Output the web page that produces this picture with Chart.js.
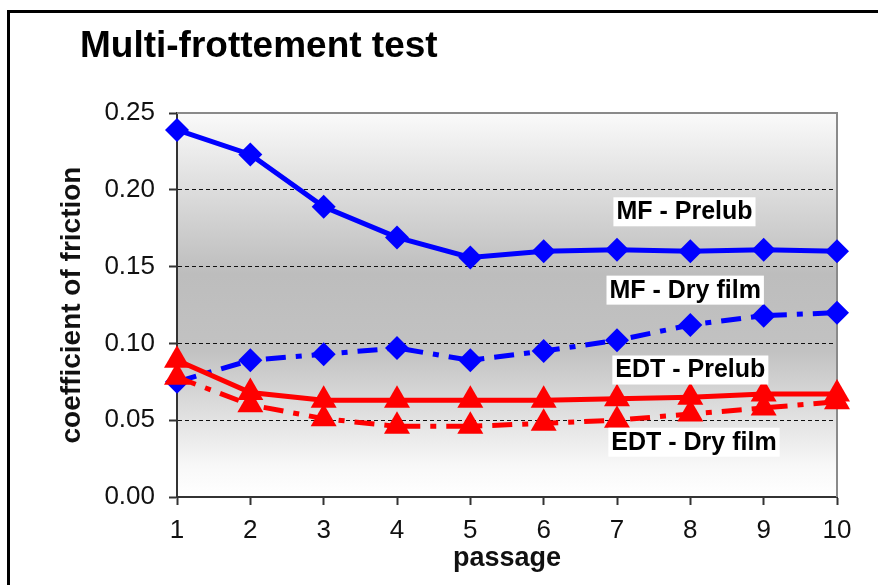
<!DOCTYPE html>
<html>
<head>
<meta charset="utf-8">
<script src="https://cdn.jsdelivr.net/npm/chart.js@4"></script>
<style>
  html, body { margin: 0; padding: 0; background: #ffffff; }
  #wrap { position: relative; width: 878px; height: 585px; }
</style>
</head>
<body>
<div id="wrap"><canvas id="frictionChart" width="878" height="585"></canvas></div>
<script>
// Multi-frottement test - coefficient of friction vs passage
const passages = ['1', '2', '3', '4', '5', '6', '7', '8', '9', '10'];
const mfPrelub   = [0.239, 0.223, 0.189, 0.169, 0.156, 0.160, 0.161, 0.160, 0.161, 0.160];
const mfDryFilm  = [0.075, 0.089, 0.093, 0.097, 0.089, 0.095, 0.102, 0.112, 0.118, 0.120];
const edtPrelub  = [0.089, 0.068, 0.063, 0.063, 0.063, 0.063, 0.064, 0.065, 0.067, 0.067];
const edtDryFilm = [0.078, 0.060, 0.051, 0.046, 0.046, 0.048, 0.050, 0.054, 0.058, 0.062];
const yTicks = [0, 0.05, 0.10, 0.15, 0.20, 0.25];

const seriesNames = ['MF - Prelub', 'MF - Dry film', 'EDT - Prelub', 'EDT - Dry film'];
// where each series name sits (category index, y value)
const namePlaces = [[6.92, 0.186], [6.93, 0.135], [7.0, 0.083], [7.05, 0.036]];

const FONT = "Arial, 'Liberation Sans', sans-serif";

const decor = {
    id: 'decor',
    beforeDraw(chart) {
        const { ctx, chartArea: a } = chart;
        const g = ctx.createLinearGradient(0, a.top, 0, a.bottom);
        g.addColorStop(0, '#fafafa');
        g.addColorStop(0.42, '#bdbdbd');
        g.addColorStop(0.62, '#c2c2c2');
        g.addColorStop(0.92, '#f8f8f8');
        g.addColorStop(1, '#ffffff');
        ctx.save();
        ctx.fillStyle = g;
        ctx.fillRect(a.left, a.top, a.right - a.left, a.bottom - a.top);
        ctx.restore();
    },
    beforeDatasetsDraw(chart) {
        const { ctx, chartArea: a } = chart;
        ctx.save();
        ctx.strokeStyle = '#8a8a8a';
        ctx.lineWidth = 2;
        ctx.beginPath();
        ctx.moveTo(a.left, a.top);
        ctx.lineTo(a.right, a.top);
        ctx.lineTo(a.right, a.bottom);
        ctx.stroke();
        ctx.restore();
    },
    afterDraw(chart) {
        const { ctx } = chart;
        const xs = chart.scales.x, ys = chart.scales.y;
        ctx.save();
        // series names in white boxes
        ctx.font = 'bold 25px ' + FONT;
        ctx.textAlign = 'center';
        ctx.textBaseline = 'middle';
        seriesNames.forEach((name, i) => {
            const px = xs.getPixelForValue(namePlaces[i][0]);
            const py = ys.getPixelForValue(namePlaces[i][1]);
            const w = ctx.measureText(name).width + 6;
            ctx.fillStyle = '#ffffff';
            ctx.fillRect(px - w / 2, py - 14, w, 29);
            ctx.fillStyle = '#000000';
            ctx.fillText(name, px, py + 1);
        });
        // title
        ctx.font = 'bold 37px ' + FONT;
        ctx.textAlign = 'left';
        ctx.textBaseline = 'alphabetic';
        ctx.fillText('Multi-frottement test', 80, 57);
        // outer frame
        ctx.fillStyle = '#000000';
        ctx.fillRect(7, 10, 871, 3);
        ctx.fillRect(7, 10, 3, 575);
        ctx.restore();
    }
};

const ctx = document.getElementById('frictionChart').getContext('2d');

new Chart(ctx, {
    type: 'line',
    data: {
        labels: passages,
        datasets: [
            {
                label: 'EDT - Prelub',
                data: edtPrelub,
                borderColor: '#ff0000',
                backgroundColor: '#ff0000',
                borderWidth: 5,
                pointStyle: 'triangle',
                pointRadius: 15,
                pointBorderWidth: 0
            },
            {
                label: 'EDT - Dry film',
                data: edtDryFilm,
                borderColor: '#ff0000',
                backgroundColor: '#ff0000',
                borderWidth: 5,
                borderDash: [20, 10, 6, 10],
                pointStyle: 'triangle',
                pointRadius: 15,
                pointBorderWidth: 0
            },
            {
                label: 'MF - Prelub',
                data: mfPrelub,
                borderColor: '#0000ff',
                backgroundColor: '#0000ff',
                borderWidth: 5,
                pointStyle: 'rectRot',
                pointRadius: 12,
                pointBorderWidth: 0
            },
            {
                label: 'MF - Dry film',
                data: mfDryFilm,
                borderColor: '#0000ff',
                backgroundColor: '#0000ff',
                borderWidth: 5,
                borderDash: [20, 10, 6, 10],
                pointStyle: 'rectRot',
                pointRadius: 12,
                pointBorderWidth: 0
            }
        ]
    },
    options: {
        responsive: false,
        animation: false,
        layout: { padding: { left: 51, top: 113, right: 41, bottom: 8 } },
        elements: { line: { tension: 0 } },
        plugins: {
            legend: { display: false },
            tooltip: { enabled: false }
        },
        scales: {
            x: {
                offset: false,
                afterFit(scale) { scale.height = 80; },
                grid: {
                    drawOnChartArea: false,
                    tickLength: 8,
                    tickColor: '#333333',
                    tickWidth: 2
                },
                border: { color: '#333333', width: 2 },
                ticks: {
                    color: '#111111',
                    padding: 10,
                    maxRotation: 0,
                    font: { family: FONT, size: 26 }
                },
                title: {
                    display: true,
                    text: 'passage',
                    color: '#111111',
                    padding: { top: 0, bottom: 2 },
                    font: { family: FONT, size: 27, weight: 'bold' }
                }
            },
            y: {
                min: 0,
                max: 0.25,
                afterFit(scale) { scale.width = 126; },
                afterBuildTicks(scale) {
                    scale.ticks = yTicks.map(v => ({ value: v }));
                },
                grid: {
                    color: c => (c.tick && (c.tick.value === 0 || c.tick.value === 0.25)) ? 'rgba(0,0,0,0)' : '#111111',
                    lineWidth: 1,
                    tickLength: 8,
                    tickColor: '#333333',
                    tickWidth: 2
                },
                border: { color: '#333333', width: 2, dash: [4, 3] },
                ticks: {
                    color: '#111111',
                    padding: 14,
                    font: { family: FONT, size: 26 },
                    callback: v => Number(v).toFixed(2)
                },
                title: {
                    display: true,
                    text: 'coefficient of friction',
                    color: '#111111',
                    padding: { top: 4, bottom: 0 },
                    font: { family: FONT, size: 28, weight: 'bold' }
                }
            }
        }
    },
    plugins: [decor]
});
</script>
</body>
</html>
